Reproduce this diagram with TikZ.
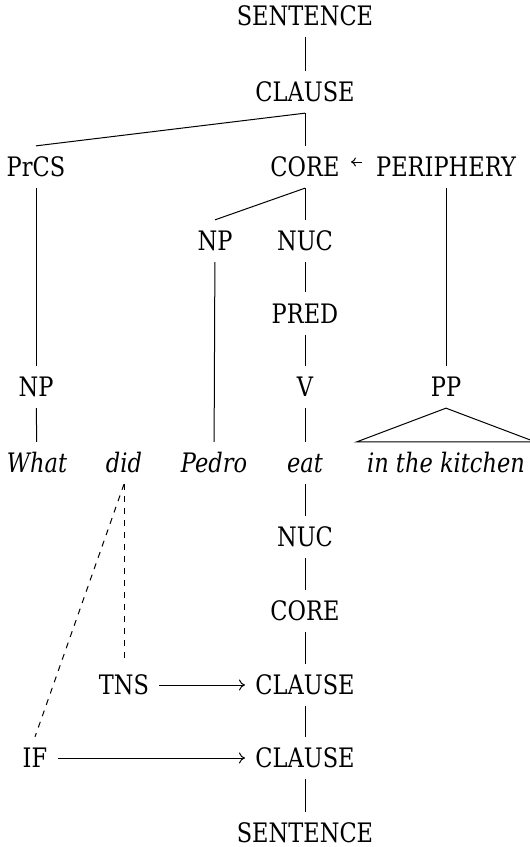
\documentclass[tikz,border=0pt]{standalone}
\usepackage{fontspec}
\setmainfont{DejaVu Serif}[FakeStretch=0.84]
\usetikzlibrary{arrows.meta}

\begin{document}
\begin{tikzpicture}[x=0.5pt, y=-0.5pt,
  lbl/.style={inner xsep=5pt, inner ysep=5.5pt, text height=9.75pt, text depth=0pt,
              font=\fontsize{13.4}{16}\selectfont},
  word/.style={lbl, font=\fontsize{13.4}{16}\selectfont\itshape},
  branch/.style={line width=0.5pt},
  trace/.style={line width=0.5pt, dash pattern=on 3pt off 3pt},
  link/.style={line width=0.5pt, -{To[length=3pt,width=5.5pt]}},
]
\useasboundingbox (0,0) rectangle (530,847);

% upper tree: constituent structure
\node[lbl] (s1)    at (305,16)    {SENTENCE};
\node[lbl] (c1)    at (305,92)    {CLAUSE};
\node[lbl] (prcs)  at (36,167)    {PrCS};
\node[lbl] (core1) at (305,167)   {CORE};
\node[lbl] (peri)  at (446,167)   {PERIPHERY};
\node[lbl] (np1)   at (215,241)   {NP};
\node[lbl] (nuc1)  at (305,241)   {NUC};
\node[lbl] (pred)  at (305,313.5) {PRED};
\node[lbl] (npw)   at (36,387)    {NP};
\node[lbl] (v)     at (305,387)   {V};
\node[lbl] (pp)    at (446,387)   {PP};

% the sentence
\node[word] (what)  at (37,463)  {What};
\node[word] (did)   at (124,463) {did};
\node[word] (pedro) at (214,463) {Pedro};
\node[word] (eat)   at (305,463) {eat};
\node[word] (kit)   at (446,463) {in the kitchen};

% lower tree: operator projection
\node[lbl] (nuc2)  at (305,537) {NUC};
\node[lbl] (core2) at (305,611) {CORE};
\node[lbl] (tns)   at (124,685) {TNS};
\node[lbl] (c2)    at (305,685) {CLAUSE};
\node[lbl] (if)    at (35,758)  {IF};
\node[lbl] (c3)    at (305,758) {CLAUSE};
\node[lbl] (s2)    at (305,833) {SENTENCE};

% branches
\draw[branch] (s1) -- (c1);
\draw[branch] (c1.south) -- (prcs.north);
\draw[branch] (c1.south) -- (core1.north);
\draw[branch] (core1.south) -- (np1.north);
\draw[branch] (core1.south) -- (nuc1.north);
\draw[branch] (peri) -- (pp);
\draw[branch] (prcs) -- (npw);
\draw[branch] (np1) -- (pedro);
\draw[branch] (nuc1) -- (pred);
\draw[branch] (pred) -- (v);
\draw[branch] (v) -- (eat);
\draw[branch] (npw) -- (what);
\draw[branch] (pp.south) -- (kit.north west) -- (kit.north east) -- cycle;

% the periphery modifies the core
\draw[line width=0.5pt, -{To[length=2.5pt,width=4.5pt]}, shorten <=2pt, shorten >=0.5pt]
  ([yshift=2.5pt]peri.west) -- ([yshift=2.5pt]core1.east);

\draw[branch] (eat) -- (nuc2);
\draw[branch] (nuc2) -- (core2);
\draw[branch] (core2) -- (c2);
\draw[branch] (c2) -- (c3);
\draw[branch] (c3) -- (s2);

% operators
\draw[trace] (did.south) -- (tns.north);
\draw[trace] (did.south) -- (if.north);
\draw[link] (tns) -- (c2);
\draw[link] (if) -- (c3);
\end{tikzpicture}
\end{document}
